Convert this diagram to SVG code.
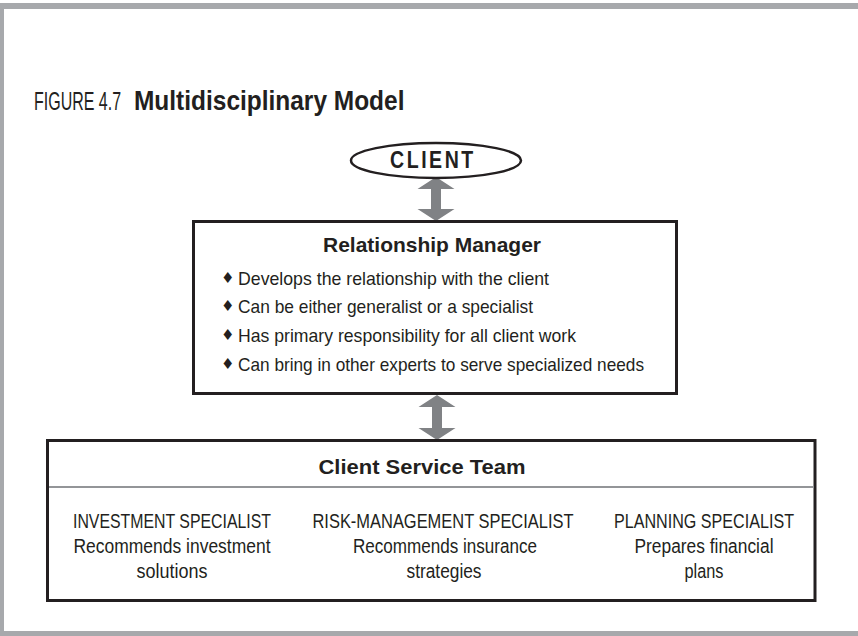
<svg xmlns="http://www.w3.org/2000/svg" width="858" height="636" viewBox="0 0 858 636">
<style>
.frame{fill:#a7a9ac}
.box{fill:#fff;stroke:#231f20;stroke-width:3}
.arrow{fill:#808285}
.t{font-family:"Liberation Sans",Arial,sans-serif;fill:#231f20}
.b{font-weight:bold}
.bul{font-family:"DejaVu Sans",sans-serif;font-size:15px;fill:#231f20}
</style>
<rect width="858" height="636" fill="#fff"/>
<rect class="frame" x="0" y="3" width="858" height="6"/>
<rect class="frame" x="0" y="3" width="4" height="633"/>
<rect class="frame" x="0" y="631" width="858" height="5"/>
<g id="title">
<text class="t" transform="translate(34,110) scale(0.64,1)" x="0" y="0" font-size="25">FIGURE 4.7</text>
<text class="t b" transform="translate(134,110) scale(0.874,1)" x="0" y="0" font-size="28">Multidisciplinary Model</text>
</g>
<g id="connectors">
<polygon class="arrow" points="436,177 454.5,189 441,189 441,209 454.5,209 436,221 417.5,209 431,209 431,189 417.5,189"/>
<polygon class="arrow" points="437,395 455.5,407 442,407 442,428 455.5,428 437,440 418.5,428 432,428 432,407 418.5,407"/>
</g>
<g id="client">
<ellipse cx="436" cy="160.5" rx="85" ry="17.5" fill="#fff" stroke="#231f20" stroke-width="2.5"/>
<text class="t b" transform="translate(390,168) scale(0.85,1)" x="0" y="0" font-size="23" letter-spacing="3">CLIENT</text>
</g>
<g id="relationship-manager">
<rect class="box" x="193.5" y="221.5" width="483" height="172"/>
<text class="t b" x="432" y="252" font-size="21" text-anchor="middle" textLength="218" lengthAdjust="spacingAndGlyphs">Relationship Manager</text>
<text class="bul" x="221" y="283">♦</text>
<text class="bul" x="221" y="311">♦</text>
<text class="bul" x="221" y="340">♦</text>
<text class="bul" x="221" y="369">♦</text>
<text class="t" x="238" y="285" font-size="19" textLength="311" lengthAdjust="spacingAndGlyphs">Develops the relationship with the client</text>
<text class="t" x="238" y="313" font-size="19" textLength="295" lengthAdjust="spacingAndGlyphs">Can be either generalist or a specialist</text>
<text class="t" x="238" y="342" font-size="19" textLength="338" lengthAdjust="spacingAndGlyphs">Has primary responsibility for all client work</text>
<text class="t" x="238" y="371" font-size="19" textLength="406" lengthAdjust="spacingAndGlyphs">Can bring in other experts to serve specialized needs</text>
</g>
<g id="client-service-team">
<rect class="box" x="47.5" y="440.5" width="767.5" height="160"/>
<line x1="49" y1="487" x2="813.5" y2="487" stroke="#939598" stroke-width="2"/>
<text class="t b" x="422" y="474" font-size="20" text-anchor="middle" textLength="207" lengthAdjust="spacingAndGlyphs">Client Service Team</text>
<g font-size="20" text-anchor="middle">
<text class="t" x="172" y="528" textLength="198" lengthAdjust="spacingAndGlyphs">INVESTMENT SPECIALIST</text>
<text class="t" x="172" y="553" textLength="197" lengthAdjust="spacingAndGlyphs">Recommends investment</text>
<text class="t" x="172" y="578" textLength="71" lengthAdjust="spacingAndGlyphs">solutions</text>
<text class="t" x="443" y="528" textLength="261" lengthAdjust="spacingAndGlyphs">RISK-MANAGEMENT SPECIALIST</text>
<text class="t" x="445" y="553" textLength="184" lengthAdjust="spacingAndGlyphs">Recommends insurance</text>
<text class="t" x="444" y="578" textLength="75" lengthAdjust="spacingAndGlyphs">strategies</text>
<text class="t" x="704" y="528" textLength="180" lengthAdjust="spacingAndGlyphs">PLANNING SPECIALIST</text>
<text class="t" x="704" y="553" textLength="139" lengthAdjust="spacingAndGlyphs">Prepares financial</text>
<text class="t" x="704" y="578" textLength="39" lengthAdjust="spacingAndGlyphs">plans</text>
</g>
</g>
</svg>
